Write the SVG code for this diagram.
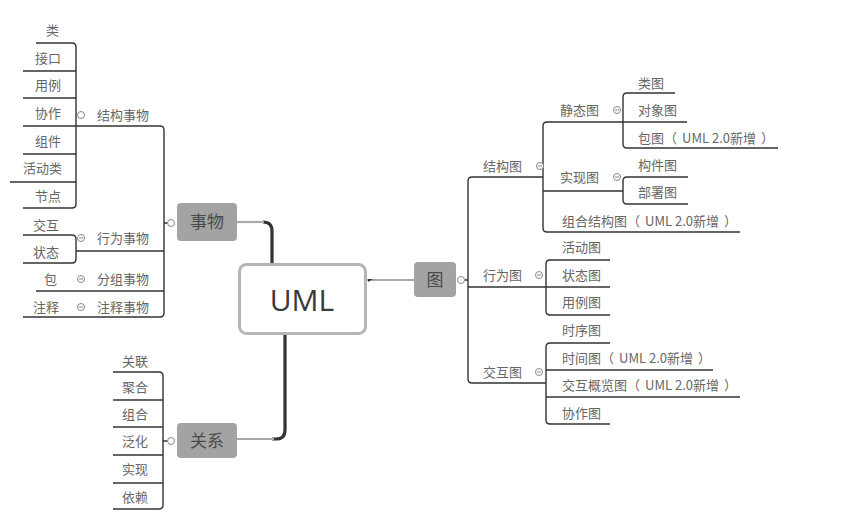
<svg xmlns="http://www.w3.org/2000/svg" width="852" height="517" viewBox="0 0 852 517">
<style>
.t{font-family:"Noto Sans CJK SC","Liberation Sans",sans-serif;font-size:13px;fill:#666}
.e{text-anchor:end}
.ln{fill:none;stroke:#333;stroke-width:1.4}
.thick{fill:none;stroke:#333;stroke-width:3.2}
.gray{fill:none;stroke:#a8a8a8;stroke-width:2.2}
.box{fill:#a3a3a3}
.bt{font-family:"Noto Sans CJK SC","Liberation Sans",sans-serif;font-size:17px;fill:#4a4a4a;text-anchor:middle}
.c{fill:#fff;stroke:#888;stroke-width:1}
.mn{stroke:#888;stroke-width:1}
</style>
<rect width="852" height="517" fill="#fff"/>
<g id="connectors">
<path class="thick" d="M263,222 Q272,222 272,231 V263"/>
<path class="gray" d="M237,222 H264"/>
<path class="thick" d="M285,335 V430 Q285,439 276,439 H272"/>
<path class="gray" d="M237,439 H274"/>
<path d="M367,280 H414" fill="none" stroke="#555" stroke-width="1"/>
<path d="M368,282 L373,279 L368,279 Z" fill="#333"/>
<path class="ln" d="M36,43 H72 Q76,43 76,47 V204 Q76,208 72,208 H23"/>
<path class="ln" d="M23,71 H76 M23,98 H76 M23,154 H76 M10,182 H76"/>
<path class="ln" d="M23,126 H160 Q164,126 164,130 V313 Q164,317 160,317 H23"/>
<path class="ln" d="M76,251 H164 M36,291 H164 M164,223 H167"/>
<path class="ln" d="M23,235 H72 Q76,235 76,239 V259 Q76,263 72,263 H23"/>
<path class="ln" d="M113,372 H159 Q163,372 163,376 V505 Q163,509 159,509 H113"/>
<path class="ln" d="M113,400 H163 M113,427 H163 M113,455 H163 M113,483 H163 M163,441 H167"/>
<path class="ln" d="M543,177 H472 Q468,177 468,181 V379 Q468,383 472,383 H546"/>
<path class="ln" d="M468,287 H546 M465,280 H468"/>
<path class="ln" d="M623,122 H547 Q543,122 543,126 V228 Q543,232 547,232 H740 M543,191 H623"/>
<path class="ln" d="M675,93 H627 Q623,93 623,97 V144 Q623,148 627,148 H778 M623,122 H687"/>
<path class="ln" d="M688,177 H627 Q623,177 623,181 V200 Q623,204 627,204 H688"/>
<path class="ln" d="M610,260 H550 Q546,260 546,264 V311 Q546,315 550,315 H610 M546,287 H610"/>
<path class="ln" d="M610,343 H550 Q546,343 546,347 V420 Q546,424 550,424 H610 M546,370 H713 M546,397 H740"/>
</g>
<g id="uml">
<rect x="239.5" y="264.5" width="126" height="69" rx="7" fill="#fff" stroke="#b5b5b5" stroke-width="3"/>
<text x="302" y="311" font-family="Open Sans,Liberation Sans,sans-serif" font-size="30" fill="#3a3a3a" text-anchor="middle">UML</text>
</g>
<g id="shiwu">
<rect class="box" x="177" y="203" width="60" height="38" rx="4"/>
<text class="bt" x="207" y="228">事物</text>
<circle class="c" cx="171" cy="223" r="3.5"/>
</g>
<g id="guanxi">
<rect class="box" x="177" y="423" width="60" height="35" rx="4"/>
<text class="bt" x="207" y="447">关系</text>
<circle class="c" cx="171" cy="441" r="3.5"/>
</g>
<g id="tu">
<rect class="box" x="414" y="262" width="42" height="35" rx="4"/>
<text class="bt" x="435" y="286">图</text>
<circle class="c" cx="461" cy="280" r="3.5"/>
</g>
<g id="jiegoushiwu">
<circle class="c" cx="81" cy="115" r="3.5"/>
<text class="t" x="97" y="120">结构事物</text>
</g>
<g id="leaf-lei"><text class="t e" x="59" y="35">类</text></g>
<g id="leaf-jiekou"><text class="t e" x="61" y="63">接口</text></g>
<g id="leaf-yongli"><text class="t e" x="61" y="90">用例</text></g>
<g id="leaf-xiezuo"><text class="t e" x="61" y="118">协作</text></g>
<g id="leaf-zujian"><text class="t e" x="61" y="146">组件</text></g>
<g id="leaf-huodonglei"><text class="t e" x="62" y="173">活动类</text></g>
<g id="leaf-jiedian"><text class="t e" x="61" y="201">节点</text></g>
<g id="xingweishiwu">
<circle class="c" cx="81" cy="238" r="3.5"/><path class="mn" d="M79,238 H83"/>
<text class="t" x="97" y="243">行为事物</text>
</g>
<g id="leaf-jiaohu"><text class="t e" x="59" y="230">交互</text></g>
<g id="leaf-zhuangtai"><text class="t e" x="59" y="257">状态</text></g>
<g id="fenzushiwu">
<circle class="c" cx="81" cy="279" r="3.5"/><path class="mn" d="M79,279 H83"/>
<text class="t" x="97" y="284">分组事物</text>
</g>
<g id="leaf-bao"><text class="t e" x="57" y="284">包</text></g>
<g id="zhushishiwu">
<circle class="c" cx="81" cy="307" r="3.5"/><path class="mn" d="M79,307 H83"/>
<text class="t" x="97" y="312">注释事物</text>
</g>
<g id="leaf-zhushi"><text class="t e" x="59" y="312">注释</text></g>
<g id="leaf-guanlian"><text class="t e" x="148" y="366">关联</text></g>
<g id="leaf-juhe"><text class="t e" x="148" y="392">聚合</text></g>
<g id="leaf-zuhe"><text class="t e" x="148" y="419">组合</text></g>
<g id="leaf-fanhua"><text class="t e" x="148" y="446">泛化</text></g>
<g id="leaf-shixian"><text class="t e" x="148" y="474">实现</text></g>
<g id="leaf-yilai"><text class="t e" x="148" y="502">依赖</text></g>
<g id="jiegoutu">
<text class="t" x="483" y="171">结构图</text>
<circle class="c" cx="540" cy="166" r="3.5"/><path class="mn" d="M538,166 H542"/>
</g>
<g id="jingtaitu">
<text class="t" x="560" y="115">静态图</text>
<circle class="c" cx="617" cy="110" r="3.5"/><path class="mn" d="M615,110 H619"/>
</g>
<g id="leaf-leitu"><text class="t" x="638" y="88">类图</text></g>
<g id="leaf-duixiangtu"><text class="t" x="638" y="115">对象图</text></g>
<g id="leaf-baotu"><text class="t" x="638" y="143">包图（<tspan dx="5">UML 2.0新增</tspan><tspan dx="5">）</tspan></text></g>
<g id="shixiantu">
<text class="t" x="560" y="182">实现图</text>
<circle class="c" cx="617" cy="177" r="3.5"/><path class="mn" d="M615,177 H619"/>
</g>
<g id="leaf-goujiantu"><text class="t" x="638" y="170">构件图</text></g>
<g id="leaf-bushutu"><text class="t" x="638" y="197">部署图</text></g>
<g id="leaf-zuhejiegoutu"><text class="t" x="562" y="226">组合结构图（<tspan dx="5">UML 2.0新增</tspan><tspan dx="5">）</tspan></text></g>
<g id="xingweitu">
<text class="t" x="483" y="280">行为图</text>
<circle class="c" cx="539" cy="275" r="3.5"/><path class="mn" d="M537,275 H541"/>
</g>
<g id="leaf-huodongtu"><text class="t" x="562" y="252">活动图</text></g>
<g id="leaf-zhuangtaitu"><text class="t" x="562" y="280">状态图</text></g>
<g id="leaf-yonglitu"><text class="t" x="562" y="307">用例图</text></g>
<g id="jiaohutu">
<text class="t" x="483" y="377">交互图</text>
<circle class="c" cx="539" cy="372" r="3.5"/><path class="mn" d="M537,372 H541"/>
</g>
<g id="leaf-shixutu"><text class="t" x="562" y="335">时序图</text></g>
<g id="leaf-shijiantu"><text class="t" x="562" y="363">时间图（<tspan dx="5">UML 2.0新增</tspan><tspan dx="5">）</tspan></text></g>
<g id="leaf-gailantu"><text class="t" x="562" y="390">交互概览图（<tspan dx="5">UML 2.0新增</tspan><tspan dx="5">）</tspan></text></g>
<g id="leaf-xiezuotu"><text class="t" x="562" y="418">协作图</text></g>
</svg>
